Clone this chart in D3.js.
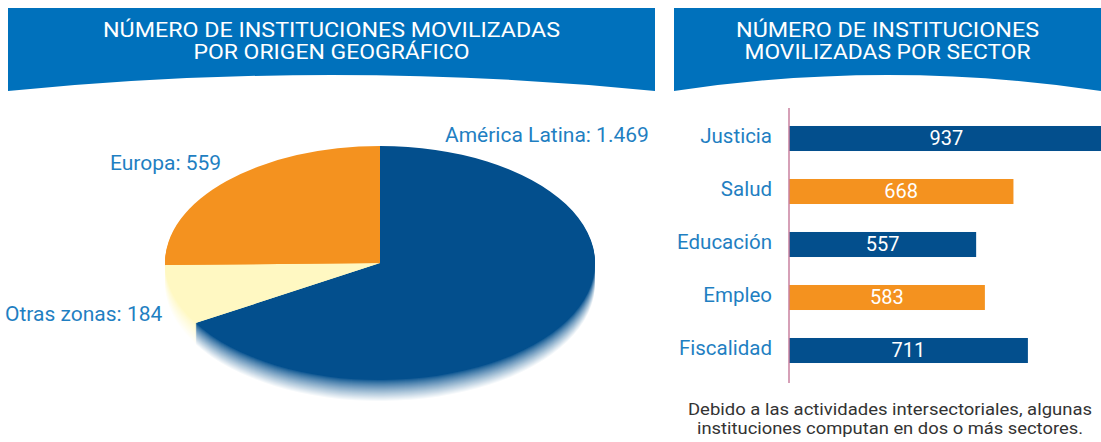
<!DOCTYPE html>
<meta charset="utf-8">
<style>
  body {
    margin: 0;
    background-color: white;
  }
  svg text {
    font-family: Roboto, "Noto Sans", sans-serif;
  }
  .banner-title {
    fill: #fff;
    font-size: 20px;
    text-anchor: middle;
  }
  .pie-label {
    fill: #1f7fc2;
    font-size: 21px;
  }
  .cat-label {
    fill: #1f7fc2;
    font-size: 20.5px;
    text-anchor: end;
  }
  .val-label {
    fill: #fff;
    font-size: 20px;
    text-anchor: middle;
  }
  .note {
    fill: #333;
    font-size: 16px;
    text-anchor: middle;
  }
</style>
<body>
<script src="https://cdn.jsdelivr.net/npm/d3@7"></script>
<script>
  // data
  var regionNames = ["América Latina", "Otras zonas", "Europa"];
  var regionValues = [1469, 184, 559];
  var regionLabels = ["América Latina: 1.469", "Otras zonas: 184", "Europa: 559"];

  var sectorNames = ["Justicia", "Salud", "Educación", "Empleo", "Fiscalidad"];
  var sectorValues = [937, 668, 557, 583, 711];

  var leftTitle = ["NÚMERO DE INSTITUCIONES MOVILIZADAS", "POR ORIGEN GEOGRÁFICO"];
  var rightTitle = ["NÚMERO DE INSTITUCIONES", "MOVILIZADAS POR SECTOR"];
  var noteLines = ["Debido a las actividades intersectoriales, algunas",
                   "instituciones computan en dos o más sectores."];

  var regionColors = ["#034f8d", "#fff8c2", "#f4921f"];
  var sectorColors = ["#034f8d", "#f4921f", "#034f8d", "#f4921f", "#034f8d"];

  var width = 1101, height = 442;

  var svg = d3.select("body").append("svg")
    .attr("width", width)
    .attr("height", height);

  // banners with a curved bottom edge
  function banner(x0, x1, lines, widths) {
    var mid = (x0 + x1) / 2;
    svg.append("path")
      .attr("d", "M" + x0 + ",8H" + x1 + "V91Q" + mid + ",59 " + x0 + ",91Z")
      .attr("fill", "#0071bc");
    lines.forEach(function (t, i) {
      svg.append("text")
        .attr("class", "banner-title")
        .attr("x", mid)
        .attr("y", 37 + i * 22)
        .attr("textLength", widths[i])
        .attr("lengthAdjust", "spacingAndGlyphs")
        .text(t);
    });
  }
  banner(8, 655, leftTitle, [457, 276]);
  banner(674, 1101, rightTitle, [303, 286]);

  // pseudo 3D pie: stacked copies fading to white under the top face
  var cx = 380, cy = 263, rx = 215, ry = 117, depth = 22;
  var pie = d3.pie().sort(null).value(function (d) { return d; });
  var arcs = pie(regionValues);
  var arc = d3.arc().innerRadius(0).outerRadius(rx);

  var pieG = svg.append("g").attr("transform", "translate(" + cx + "," + cy + ")");

  for (var i = depth; i >= 1; i--) {
    var mix = Math.pow(i / depth, 0.8);
    pieG.append("g")
      .attr("transform", "translate(0," + i + ") scale(1," + (ry / rx) + ")")
      .selectAll("path")
      .data(arcs)
      .enter().append("path")
      .attr("d", arc)
      .attr("fill", function (d, j) { return d3.interpolateRgb(regionColors[j], "#fff")(mix); });
  }

  pieG.append("g")
    .attr("transform", "scale(1," + (ry / rx) + ")")
    .selectAll("path")
    .data(arcs)
    .enter().append("path")
    .attr("d", arc)
    .attr("fill", function (d, j) { return regionColors[j]; });

  var labelPos = [[445, 142], [5, 321], [110, 170]];
  svg.selectAll(".pie-label")
    .data(regionLabels)
    .enter().append("text")
    .attr("class", "pie-label")
    .attr("x", function (d, i) { return labelPos[i][0]; })
    .attr("y", function (d, i) { return labelPos[i][1]; })
    .text(function (d) { return d; });

  // bar chart
  var x = d3.scaleLinear().domain([0, 1000]).range([789, 1125]);
  var y = d3.scaleBand().domain(sectorNames).range([112, 377])
    .paddingInner(0.528).paddingOuter(0.264);

  svg.selectAll(".bar")
    .data(sectorValues)
    .enter().append("rect")
    .attr("class", "bar")
    .attr("x", x(0))
    .attr("y", function (d, i) { return y(sectorNames[i]); })
    .attr("width", function (d) { return x(d) - x(0); })
    .attr("height", y.bandwidth())
    .attr("fill", function (d, i) { return sectorColors[i]; });

  svg.selectAll(".val-label")
    .data(sectorValues)
    .enter().append("text")
    .attr("class", "val-label")
    .attr("x", function (d) { return (x(0) + x(d)) / 2; })
    .attr("y", function (d, i) { return y(sectorNames[i]) + y.bandwidth() / 2 + 6.5; })
    .text(function (d) { return d; });

  svg.selectAll(".cat-label")
    .data(sectorNames)
    .enter().append("text")
    .attr("class", "cat-label")
    .attr("x", 772)
    .attr("y", function (d) { return y(d) + y.bandwidth() / 2 + 4; })
    .text(function (d) { return d; });

  svg.append("line")
    .attr("x1", x(0)).attr("x2", x(0))
    .attr("y1", 108).attr("y2", 383)
    .attr("stroke", "#c8809f")
    .attr("stroke-width", 1.5);

  var noteWidths = [404, 386];
  svg.selectAll(".note")
    .data(noteLines)
    .enter().append("text")
    .attr("class", "note")
    .attr("x", 890)
    .attr("y", function (d, i) { return 415 + i * 19; })
    .attr("textLength", function (d, i) { return noteWidths[i]; })
    .attr("lengthAdjust", "spacingAndGlyphs")
    .text(function (d) { return d; });
</script>
</body>
